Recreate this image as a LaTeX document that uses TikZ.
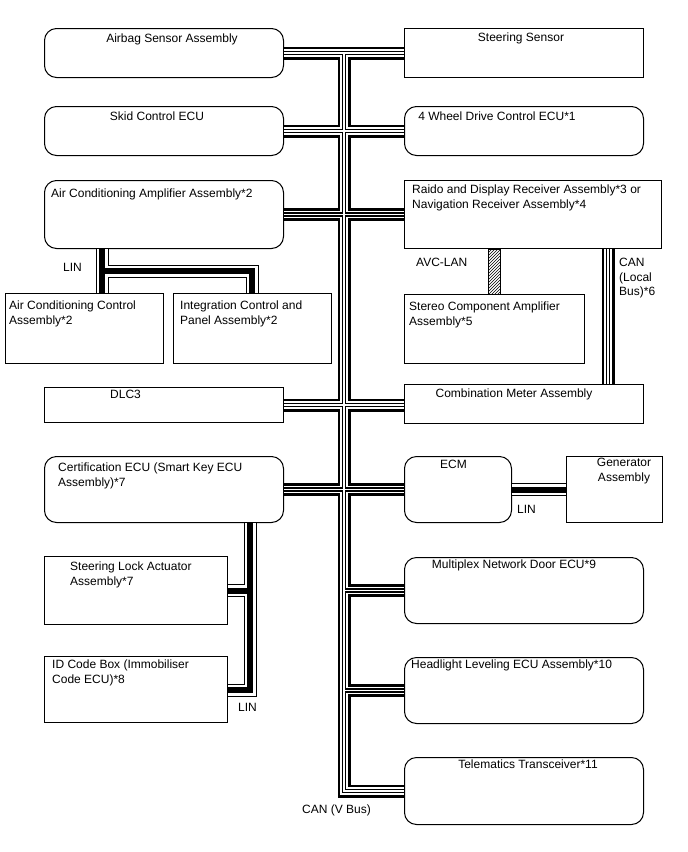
\documentclass[tikz,border=0pt]{standalone}
\usepackage{fontspec}
\setmainfont{Liberation Sans}
\usetikzlibrary{patterns}

\begin{document}
\begin{tikzpicture}[x=1pt,y=-1pt,every node/.style={font=\fontsize{12}{14.5}\selectfont},
  box/.style={draw,line width=1pt,inner sep=0pt,anchor=north west},
  rbox/.style={box,rounded corners=12pt},
  txt/.style={inner sep=0pt,anchor=north west,align=left},
  ctxt/.style={inner sep=0pt,anchor=north,align=center},
  canbus/.style={line width=13pt,postaction={draw,white,line width=7.4pt},
    postaction={draw,black,line width=4.3pt},postaction={draw,white,line width=1.7pt}},
  linbus/.style={line width=13pt,postaction={draw,white,line width=11pt},
    postaction={draw,black,line width=6pt}}]
\useasboundingbox (0,0) rectangle (688,852);

% Left column
\node[rbox,minimum width=239pt,minimum height=49pt] (airbag) at (44,28) {};
\node[rbox,minimum width=239pt,minimum height=49pt] (skid) at (44,106) {};
\node[rbox,minimum width=239pt,minimum height=68pt] (acamp) at (44,180) {};
\node[box,minimum width=158pt,minimum height=70pt] (acctl) at (5,293) {};
\node[box,minimum width=158pt,minimum height=70pt] (integ) at (173,293) {};
\node[box,minimum width=239pt,minimum height=35pt] (dlc) at (44,387) {};
\node[rbox,minimum width=239pt,minimum height=66pt] (cert) at (44,456) {};
\node[box,minimum width=183pt,minimum height=68pt] (slock) at (44,556) {};
\node[box,minimum width=183pt,minimum height=66pt] (idcode) at (44,656) {};

% Right column
\node[box,minimum width=239pt,minimum height=49pt] (steer) at (404,28) {};
\node[rbox,minimum width=239pt,minimum height=49pt] (fourwd) at (404,106) {};
\node[box,minimum width=257pt,minimum height=68pt] (raido) at (404,180) {};
\node[box,minimum width=180pt,minimum height=69pt] (stereo) at (404,294) {};
\node[box,minimum width=239pt,minimum height=39pt] (comb) at (404,384) {};
\node[rbox,minimum width=107pt,minimum height=66pt] (ecm) at (404,456) {};
\node[box,minimum width=96pt,minimum height=66pt] (gen) at (566,456) {};
\node[rbox,minimum width=239pt,minimum height=66pt] (multi) at (404,557) {};
\node[rbox,minimum width=239pt,minimum height=66pt] (head) at (404,657) {};
\node[rbox,minimum width=239pt,minimum height=67pt] (tele) at (404,757) {};

% Box texts
\node[ctxt] (airbag-t) at (172,34) {Airbag Sensor Assembly};
\node[ctxt] (skid-t) at (157,112) {Skid Control ECU};
\node[txt] (acamp-t) at (51,189) {Air Conditioning Amplifier Assembly*2};
\node[txt] (acctl-t) at (9,301) {Air Conditioning Control\\Assembly*2};
\node[txt] (integ-t) at (180,301) {Integration Control and\\Panel Assembly*2};
\node[txt] (dlc-t) at (110,390) {DLC3};
\node[txt] (cert-t) at (58,463) {Certification ECU (Smart Key ECU\\Assembly)*7};
\node[txt] (slock-t) at (70,562) {Steering Lock Actuator\\Assembly*7};
\node[txt] (idcode-t) at (52,660) {ID Code Box (Immobiliser\\Code ECU)*8};
\node[ctxt] (steer-t) at (521,33) {Steering Sensor};
\node[ctxt] (fourwd-t) at (497,112) {4 Wheel Drive Control ECU*1};
\node[txt] (raido-t) at (412,185) {Raido and Display Receiver Assembly*3 or\\Navigation Receiver Assembly*4};
\node[txt] (stereo-t) at (409,302) {Stereo Component Amplifier\\Assembly*5};
\node[ctxt] (comb-t) at (514,389) {Combination Meter Assembly};
\node[txt] (ecm-t) at (440,460) {ECM};
\node[ctxt] (gen-t) at (624,458) {Generator\\Assembly};
\node[ctxt] (multi-t) at (514,560) {Multiplex Network Door ECU*9};
\node[txt] (head-t) at (411,660) {Headlight Leveling ECU Assembly*10};
\node[ctxt] (tele-t) at (528,760) {Telematics Transceiver*11};

% CAN (V Bus)
\coordinate (trunk) at (344,0);
\draw[canbus] (airbag.east) -- (steer.west)
  (skid.east) -- (fourwd.west)
  (acamp.east) -- (raido.west)
  (dlc.east) -- (dlc.east -| comb.west)
  (cert.east) -- (ecm.west)
  (airbag.east -| trunk) -- (tele.west -| trunk) -- (tele.west)
  (multi.west -| trunk) -- (multi.west)
  (head.west -| trunk) -- (head.west);
\node[txt] (canv) at (302,805) {CAN (V Bus)};

% CAN (Local Bus)
\coordinate (canloc) at (608,0);
\draw[canbus] (raido.south -| canloc) -- (comb.north -| canloc);
\node[txt] (canl) at (619,258) {CAN\\(Local\\Bus)*6};

% AVC-LAN
\coordinate (avc) at (488,0);
\draw[line width=0.8pt,pattern=north east lines] (raido.south -| avc) rectangle (stereo.north -| 500,0);
\node[txt] (avc-t) at (416,258) {AVC-LAN};

% LIN lines
\coordinate (aclin) at (102,0);
\coordinate (aclin2) at (252,271);
\draw[linbus] (acamp.south -| aclin) -- (acctl.north -| aclin)
  (aclin |- aclin2) -- (aclin2) -- (integ.north -| aclin2);
\node[txt] (lin1) at (63,263) {LIN};

\coordinate (klin) at (250,690);
\draw[linbus] (cert.south -| klin) -- (klin) -- (klin -| idcode.east)
  (slock.east -| klin) -- (slock.east);
\node[txt] (lin3) at (238,703) {LIN};

\draw[linbus] (ecm.east) -- (gen.west);
\node[txt] (lin2) at (517,505) {LIN};
\end{tikzpicture}
\end{document}
